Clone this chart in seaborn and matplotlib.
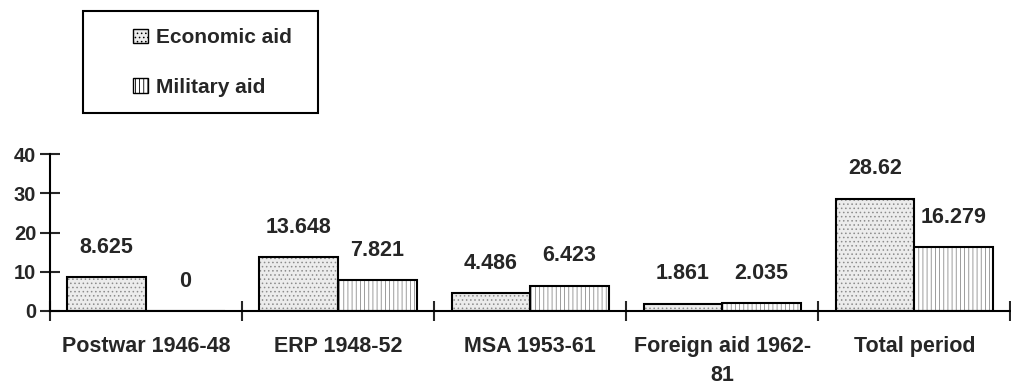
import pandas as pd
import matplotlib
matplotlib.use("Agg")
import matplotlib.pyplot as plt
import seaborn as sns
from matplotlib.patches import Patch, Rectangle

periods = ["Postwar 1946-48", "ERP 1948-52", "MSA 1953-61", "Foreign aid 1962-\n81", "Total period"]
economic = [8.625, 13.648, 4.486, 1.861, 28.62]
military = [0, 7.821, 6.423, 2.035, 16.279]
series = ["Economic aid", "Military aid"]

df = pd.DataFrame({
    "period": periods * 2,
    "aid": [series[0]] * len(periods) + [series[1]] * len(periods),
    "value": economic + military,
})

sns.set_style("white")
plt.rcParams["font.family"] = ["Liberation Sans", "DejaVu Sans"]
plt.rcParams["font.weight"] = "bold"
plt.rcParams["hatch.linewidth"] = 0.6

fig = plt.figure(figsize=(10.11, 3.88), dpi=100)
ax = fig.add_axes([0.0495, 0.1985, 0.95, 0.4045])

sns.barplot(data=df, x="period", y="value", hue="aid", order=periods,
            hue_order=series, width=0.82, gap=0, ax=ax, legend=False,
            edgecolor="black", linewidth=1.5, saturation=1)

fills = ["#ececec", "white"]
hatches = ["....", "||||"]
for cont, fc, h in zip(ax.containers, fills, hatches):
    for bar in cont:
        bar.set_facecolor(fc)
        bar.set_hatch(h)
        bar._hatch_color = (0.55, 0.55, 0.55, 1.0)
    ax.bar_label(cont, fmt="%g", padding=14, fontsize=15.5, fontweight="bold")

ax.set_ylim(0, 40)
ax.set_xlim(-0.5, len(periods) - 0.5)
ax.set_yticks([0, 10, 20, 30, 40])
ax.set_xlabel("")
ax.set_ylabel("")
for s in ["top", "right"]:
    ax.spines[s].set_visible(False)
for s in ["left", "bottom"]:
    ax.spines[s].set_linewidth(1.5)
    ax.spines[s].set_color("black")

ax.tick_params(axis="y", direction="inout", length=14, width=1.5, labelsize=14.5, pad=3, left=True)
ax.tick_params(axis="x", which="major", length=0, labelsize=15.5, pad=18)
ax.set_xticks([i + 0.5 for i in range(-1, len(periods))], minor=True)
ax.tick_params(axis="x", which="minor", direction="inout", length=14, width=1.5, bottom=True)
for t in ax.get_xticklabels() + ax.get_yticklabels():
    t.set_fontweight("bold")
for t in ax.get_xticklabels():
    t.set_linespacing(1.5)

fig.patches.append(Rectangle((0.082, 0.709), 0.2325, 0.263, transform=fig.transFigure,
                             fill=False, edgecolor="black", linewidth=1.5))
handles = [Patch(facecolor=f, edgecolor="black", hatch=h) for f, h in zip(fills, hatches)]
fig.legend(handles, series, loc="center left", bbox_to_anchor=(0.113, 0.839),
           frameon=False, prop={"size": 15, "weight": "bold"},
           handlelength=0.7, handleheight=0.7, handletextpad=0.4, labelspacing=1.45)

fig.savefig("out.png", dpi=100)
